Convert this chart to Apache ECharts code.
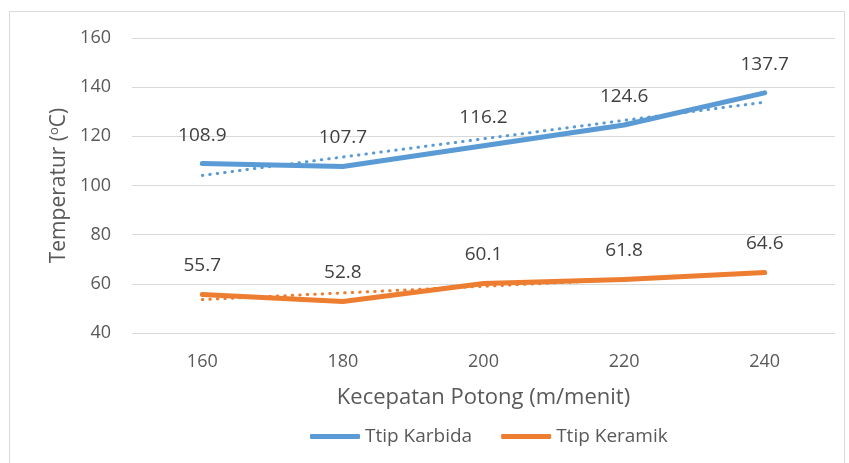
<!DOCTYPE html>
<html><head><meta charset="utf-8">
<script src="https://cdn.jsdelivr.net/npm/echarts@6/dist/echarts.min.js"></script>
<style>html,body{margin:0;padding:0;background:#fff}#c{width:849px;height:463px}</style>
</head><body><div id="c"></div>
<script>
const categories = ['160', '180', '200', '220', '240'];
const karbida = [108.9, 107.7, 116.2, 124.6, 137.7];
const keramik = [55.7, 52.8, 60.1, 61.8, 64.6];
// linear trend lines
const karbidaTrend = [104.1, 111.6, 119.0, 126.5, 133.9];
const keramikTrend = [53.6, 56.3, 59.0, 61.7, 64.4];
const yTicks = [40, 60, 80, 100, 120, 140, 160];

const FONT = 'Open Sans';
const chart = echarts.init(document.getElementById('c'));
const labelStyle = { show: true, position: 'top', distance: 19, color: '#404040', fontSize: 19, fontFamily: FONT };
chart.setOption({
  animation: false,
  textStyle: { fontFamily: FONT },
  graphic: [{ type: 'rect', shape: { x: 9.5, y: 11.5, width: 835, height: 460 }, style: { fill: 'none', stroke: '#d9d9d9', lineWidth: 1 }, silent: true }],
  grid: { left: 132, right: 14, top: 38, bottom: 130 },
  legend: {
    data: ['Ttip Karbida', 'Ttip Keramik'],
    top: 422, left: 305,
    icon: 'roundRect', itemWidth: 50, itemHeight: 5, itemGap: 29,
    textStyle: { color: '#595959', fontSize: 19, fontFamily: FONT }
  },
  xAxis: {
    type: 'category', data: categories, boundaryGap: true,
    axisLine: { show: false }, axisTick: { show: false },
    axisLabel: { color: '#595959', fontSize: 18, fontFamily: FONT, margin: 20 },
    name: 'Kecepatan Potong (m/menit)', nameLocation: 'middle', nameGap: 54,
    nameTextStyle: { color: '#595959', fontSize: 22, fontFamily: FONT }
  },
  yAxis: {
    type: 'value', min: yTicks[0], max: yTicks[yTicks.length - 1], interval: 20,
    axisLine: { show: false }, axisTick: { show: false },
    axisLabel: { color: '#595959', fontSize: 18, fontFamily: FONT, margin: 21 },
    splitLine: { lineStyle: { color: '#d9d9d9', width: 1 } },
    name: '{a|Temperatur (}{s|o}{a|C)}', nameLocation: 'middle', nameGap: 62,
    nameTextStyle: { rich: {
      a: { color: '#595959', fontSize: 21, fontFamily: FONT },
      s: { color: '#595959', fontSize: 13, fontFamily: FONT, verticalAlign: 'top', padding: [0, 0, 9, 0] }
    } }
  },
  series: [
    { name: 'Karbida trend', type: 'line', data: karbidaTrend, symbol: 'none', silent: true,
      lineStyle: { color: '#5B9BD5', width: 3, type: [0.5, 7], cap: 'round' }, z: 1 },
    { name: 'Keramik trend', type: 'line', data: keramikTrend, symbol: 'none', silent: true,
      lineStyle: { color: '#ED7D31', width: 3, type: [0.5, 7], cap: 'round' }, z: 1 },
    { name: 'Ttip Karbida', type: 'line', data: karbida, symbol: 'circle', symbolSize: 0, showSymbol: true, itemStyle: { color: '#5B9BD5' },
      lineStyle: { color: '#5B9BD5', width: 5, cap: 'round', join: 'round' }, label: labelStyle, z: 2 },
    { name: 'Ttip Keramik', type: 'line', data: keramik, symbol: 'circle', symbolSize: 0, showSymbol: true, itemStyle: { color: '#ED7D31' },
      lineStyle: { color: '#ED7D31', width: 5, cap: 'round', join: 'round' }, label: labelStyle, z: 2 }
  ]
});
</script></body></html>
